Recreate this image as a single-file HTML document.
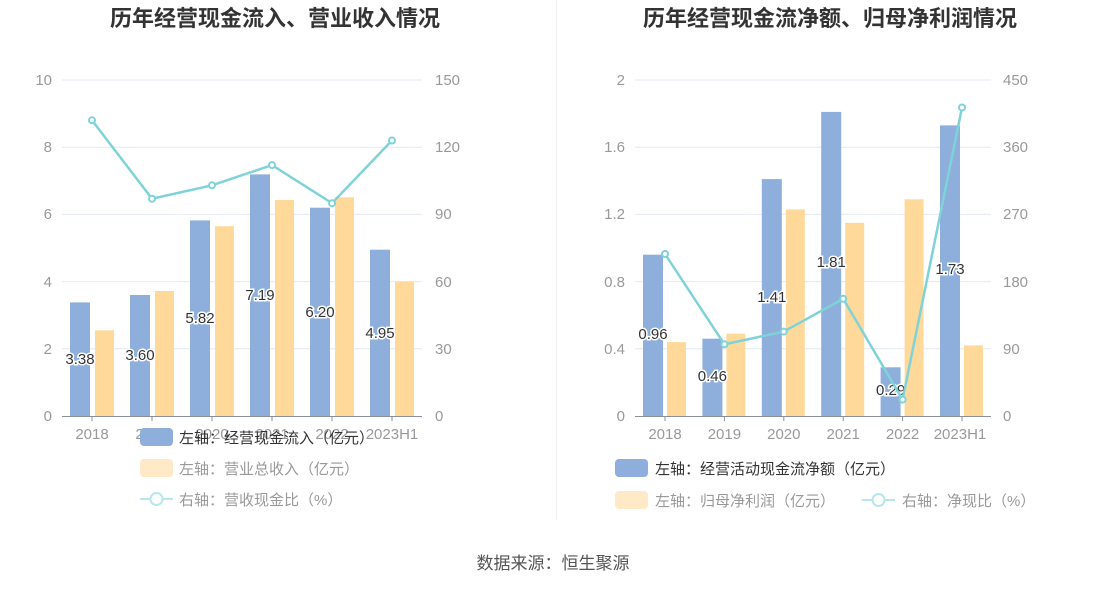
<!DOCTYPE html>
<html><head><meta charset="utf-8"><style>
body{margin:0;background:#fff;width:1106px;height:589px;overflow:hidden}
svg{display:block;font-family:"Liberation Sans","Noto Sans CJK SC",sans-serif}
.t{font-size:22px;font-weight:bold;fill:#333}
.ax{font-size:15px;fill:#999}
.lb{font-size:15px;fill:#333;stroke:#fff;stroke-width:3px;paint-order:stroke;text-anchor:middle}
.lg{font-size:15px}
</style></head><body>
<svg width="1106" height="589" viewBox="0 0 1106 589">
<text class="t" x="275" y="26" text-anchor="middle">历年经营现金流入、营业收入情况</text>
<text class="t" x="830" y="26" text-anchor="middle">历年经营现金流净额、归母净利润情况</text>
<line x1="556.5" y1="0" x2="556.5" y2="520" stroke="#eef0f4"/>
<!-- LEFT -->
<g stroke="#e3e8f2" stroke-width="1">
<line x1="62" y1="80" x2="422" y2="80"/><line x1="62" y1="147.2" x2="422" y2="147.2"/><line x1="62" y1="214.4" x2="422" y2="214.4"/><line x1="62" y1="281.6" x2="422" y2="281.6"/><line x1="62" y1="348.8" x2="422" y2="348.8"/>
</g>
<g class="ax" text-anchor="end">
<text x="52" y="85">10</text><text x="52" y="152">8</text><text x="52" y="219">6</text><text x="52" y="287">4</text><text x="52" y="354">2</text><text x="52" y="421">0</text>
</g>
<g class="ax">
<text x="435" y="85">150</text><text x="435" y="152">120</text><text x="435" y="219">90</text><text x="435" y="287">60</text><text x="435" y="354">30</text><text x="435" y="421">0</text>
</g>
<g fill="#8eaedb">
<rect x="70" y="302.4" width="20" height="113.6"/><rect x="130" y="295" width="20" height="121"/><rect x="190" y="220.4" width="20" height="195.6"/><rect x="250" y="174.4" width="20" height="241.6"/><rect x="310" y="207.7" width="20" height="208.3"/><rect x="370" y="249.7" width="20" height="166.3"/>
</g>
<g fill="#ffd99a">
<rect x="95" y="330.3" width="19" height="85.7"/><rect x="155" y="291" width="19" height="125"/><rect x="215" y="226.2" width="19" height="189.8"/><rect x="275" y="200" width="19" height="216"/><rect x="335" y="197.3" width="19" height="218.7"/><rect x="395" y="281.6" width="19" height="134.4"/>
</g>
<line x1="62" y1="416.5" x2="422" y2="416.5" stroke="#8a8f99"/>
<g stroke="#8a8f99"><line x1="92" y1="416" x2="92" y2="421"/><line x1="152" y1="416" x2="152" y2="421"/><line x1="212" y1="416" x2="212" y2="421"/><line x1="272" y1="416" x2="272" y2="421"/><line x1="332" y1="416" x2="332" y2="421"/><line x1="392" y1="416" x2="392" y2="421"/></g>
<g class="ax" text-anchor="middle">
<text x="92" y="439">2018</text><text x="152" y="439">2019</text><text x="212" y="439">2020</text><text x="272" y="439">2021</text><text x="332" y="439">2022</text><text x="392" y="439">2023H1</text>
</g>
<polyline points="92,120.3 152,198.7 212,185.3 272,165.1 332,203.2 392,140.5" fill="none" stroke="#7fd3d8" stroke-width="2.5"/>
<g fill="#fff" stroke="#7fd3d8" stroke-width="2">
<circle cx="92" cy="120.3" r="3"/><circle cx="152" cy="198.7" r="3"/><circle cx="212" cy="185.3" r="3"/><circle cx="272" cy="165.1" r="3"/><circle cx="332" cy="203.2" r="3"/><circle cx="392" cy="140.5" r="3"/>
</g>
<g class="lb">
<text x="80" y="364">3.38</text><text x="140" y="360">3.60</text><text x="200" y="323">5.82</text><text x="260" y="300">7.19</text><text x="320" y="317">6.20</text><text x="380" y="338">4.95</text>
</g>
<rect x="140" y="428" width="33" height="18" rx="4" fill="#8eaedb"/>
<text class="lg" x="179" y="443" fill="#333">左轴：经营现金流入（亿元）</text>
<rect x="140" y="459" width="33" height="18" rx="4" fill="#ffe9c7"/>
<text class="lg" x="179" y="474" fill="#999">左轴：营业总收入（亿元）</text>
<line x1="140" y1="499" x2="173" y2="499" stroke="#b7e7ea" stroke-width="2"/><circle cx="156.5" cy="499" r="6" fill="#fff" stroke="#b7e7ea" stroke-width="2"/>
<text class="lg" x="179" y="505" fill="#999">右轴：营收现金比（%）</text>

<!-- RIGHT -->
<g stroke="#e3e8f2" stroke-width="1">
<line x1="635" y1="80" x2="991" y2="80"/><line x1="635" y1="147.2" x2="991" y2="147.2"/><line x1="635" y1="214.4" x2="991" y2="214.4"/><line x1="635" y1="281.6" x2="991" y2="281.6"/><line x1="635" y1="348.8" x2="991" y2="348.8"/>
</g>
<g class="ax" text-anchor="end">
<text x="625" y="85">2</text><text x="625" y="152">1.6</text><text x="625" y="219">1.2</text><text x="625" y="287">0.8</text><text x="625" y="354">0.4</text><text x="625" y="421">0</text>
</g>
<g class="ax">
<text x="1003" y="85">450</text><text x="1003" y="152">360</text><text x="1003" y="219">270</text><text x="1003" y="287">180</text><text x="1003" y="354">90</text><text x="1003" y="421">0</text>
</g>
<g fill="#8eaedb">
<rect x="643" y="254.7" width="20" height="161.3"/><rect x="702.4" y="338.7" width="20" height="77.3"/><rect x="761.8" y="179.1" width="20" height="236.9"/><rect x="821.2" y="111.9" width="20" height="304.1"/><rect x="880.6" y="367.3" width="20" height="48.7"/><rect x="940" y="125.4" width="20" height="290.6"/>
</g>
<g fill="#ffd99a">
<rect x="667" y="342.1" width="19" height="73.9"/><rect x="726.4" y="333.7" width="19" height="82.3"/><rect x="785.8" y="209.4" width="19" height="206.6"/><rect x="845.2" y="222.8" width="19" height="193.2"/><rect x="904.6" y="199.3" width="19" height="216.7"/><rect x="964" y="345.4" width="19" height="70.6"/>
</g>
<line x1="635" y1="416.5" x2="991" y2="416.5" stroke="#8a8f99"/>
<g stroke="#8a8f99"><line x1="665" y1="416" x2="665" y2="421"/><line x1="724.4" y1="416" x2="724.4" y2="421"/><line x1="783.8" y1="416" x2="783.8" y2="421"/><line x1="843.2" y1="416" x2="843.2" y2="421"/><line x1="902.6" y1="416" x2="902.6" y2="421"/><line x1="962" y1="416" x2="962" y2="421"/></g>
<g class="ax" text-anchor="middle">
<text x="665" y="439">2018</text><text x="724.4" y="439">2019</text><text x="783.8" y="439">2020</text><text x="843.2" y="439">2021</text><text x="902.6" y="439">2022</text><text x="960" y="439">2023H1</text>
</g>
<g class="lb">
<text x="653" y="339">0.96</text><text x="712.4" y="381">0.46</text><text x="771.8" y="302">1.41</text><text x="831.2" y="267">1.81</text><text x="890.6" y="395">0.29</text><text x="950" y="274">1.73</text>
</g>
<polyline points="665,254 724.4,344.3 783.8,331.6 843.2,298.8 902.6,399.6 962,107.5" fill="none" stroke="#7fd3d8" stroke-width="2.5"/>
<g fill="#fff" stroke="#7fd3d8" stroke-width="2">
<circle cx="665" cy="254" r="3"/><circle cx="724.4" cy="344.3" r="3"/><circle cx="783.8" cy="331.6" r="3"/><circle cx="843.2" cy="298.8" r="3"/><circle cx="902.6" cy="399.6" r="3"/><circle cx="962" cy="107.5" r="3"/>
</g>
<rect x="615" y="459" width="33" height="18" rx="4" fill="#8eaedb"/>
<text class="lg" x="655" y="474" fill="#333">左轴：经营活动现金流净额（亿元）</text>
<rect x="615" y="491" width="33" height="18" rx="4" fill="#ffe9c7"/>
<text class="lg" x="655" y="506" fill="#999">左轴：归母净利润（亿元）</text>
<line x1="862" y1="500" x2="895" y2="500" stroke="#b7e7ea" stroke-width="2"/><circle cx="878.5" cy="500" r="6" fill="#fff" stroke="#b7e7ea" stroke-width="2"/>
<text class="lg" x="902" y="506" fill="#999">右轴：净现比（%）</text>

<text x="553" y="569" text-anchor="middle" font-size="17" fill="#555">数据来源：恒生聚源</text>
</svg>
</body></html>
